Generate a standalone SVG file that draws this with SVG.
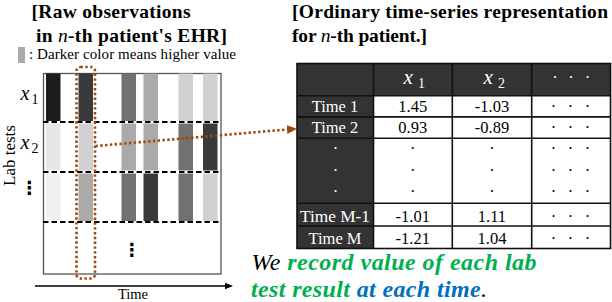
<svg xmlns="http://www.w3.org/2000/svg" width="612" height="302" viewBox="0 0 612 302">
<defs>
<style>
text{font-family:"Liberation Serif","Times New Roman",serif;}
.h{font-size:19.5px;font-weight:bold;fill:#000;}
.mi{font-style:italic;font-weight:normal;}
.num{font-size:16.5px;fill:#000;text-anchor:middle;}
.wd{font-size:16.5px;fill:#fff;text-anchor:middle;}
.dash{stroke:#000;stroke-width:2;stroke-dasharray:5.5 3;fill:none;}
.tl{stroke:#111;stroke-width:1.6;fill:none;}
.sel{fill:none;stroke:#9a4a12;stroke-width:2.6;stroke-dasharray:2.4 2.4;}
.c1{fill:#1c1c1c}.c2{fill:#3a3a3a}.c3{fill:#737070}.c4{fill:#aca9a9}.c5{fill:#d2d0d0}.c6{fill:#e8e6e6}.c7{fill:#f0f0ee}
.vd{font-family:"DejaVu Sans",sans-serif;font-weight:bold;font-size:18px;text-anchor:middle;fill:#000;}
.cap{font-size:24px;font-style:italic;}
.g{fill:#00b050;font-weight:bold;}
.bl{fill:#0070c0;font-weight:bold;}
</style>
<marker id="ahb" markerUnits="userSpaceOnUse" markerWidth="11" markerHeight="10" refX="0" refY="5" orient="auto">
<polygon points="0,0.5 10,5 0,9.5" fill="#9a4a12"/>
</marker>
<marker id="ahk" markerUnits="userSpaceOnUse" markerWidth="9" markerHeight="8" refX="0" refY="4" orient="auto">
<polygon points="0,0.8 8,4 0,7.2" fill="#000"/>
</marker>
</defs>

<g id="title-left">
<text class="h" x="31.5" y="17.5" textLength="159" lengthAdjust="spacing">[Raw observations</text>
<text class="h" x="36" y="42" textLength="191" lengthAdjust="spacing">in <tspan class="mi">n</tspan>-th patient's EHR]</text>
</g>

<g id="title-right">
<text class="h" x="292" y="17.5" textLength="316" lengthAdjust="spacing">[Ordinary time-series representation</text>
<text class="h" x="292" y="42" textLength="135" lengthAdjust="spacing">for <tspan class="mi">n</tspan>-th patient.]</text>
</g>

<g id="legend">
<rect x="18" y="47" width="7" height="16" class="c4"/>
<text x="29" y="59" font-size="15" textLength="207" lengthAdjust="spacing">: Darker color means higher value</text>
</g>

<g id="raw-grid">
<rect x="43.5" y="73.5" width="177.5" height="200.5" fill="#fff" stroke="#555" stroke-width="1.3"/>
<g id="row-x1">
<rect x="46" y="73.5" width="14.5" height="47.5" class="c1"/>
<rect x="78.5" y="73.5" width="14.5" height="47.5" class="c2"/>
<rect x="121.5" y="73.5" width="14.5" height="47.5" class="c3"/>
<rect x="143.5" y="73.5" width="14.5" height="47.5" class="c4"/>
<rect x="178.5" y="73.5" width="14.5" height="47.5" class="c5"/>
<rect x="203" y="73.5" width="14.5" height="47.5" class="c5"/>
</g>
<g id="row-x2">
<rect x="46" y="123.5" width="14.5" height="47" class="c6"/>
<rect x="78.5" y="123.5" width="14.5" height="47" class="c5"/>
<rect x="121.5" y="123.5" width="14.5" height="47" class="c4"/>
<rect x="143.5" y="123.5" width="14.5" height="47" class="c4"/>
<rect x="178.5" y="123.5" width="14.5" height="47" class="c3"/>
<rect x="203" y="123.5" width="14.5" height="47" class="c2"/>
</g>
<g id="row-x3">
<rect x="46" y="173.5" width="14.5" height="47.5" class="c7"/>
<rect x="78.5" y="173.5" width="14.5" height="47.5" class="c4"/>
<rect x="121.5" y="173.5" width="14.5" height="47.5" class="c3"/>
<rect x="143.5" y="173.5" width="14.5" height="47.5" class="c2"/>
<rect x="178.5" y="173.5" width="14.5" height="47.5" class="c3"/>
<rect x="203" y="173.5" width="14.5" height="47.5" class="c5"/>
</g>
<line x1="43" y1="122" x2="221" y2="122" class="dash"/>
<line x1="43" y1="172" x2="221" y2="172" class="dash"/>
<line x1="43" y1="222" x2="221" y2="222" class="dash"/>
<text class="vd" x="132" y="256">⋮</text>
<text x="20.5" y="100" font-size="20" font-style="italic">x</text>
<text x="31.5" y="104" font-size="14">1</text>
<text x="20.5" y="148.5" font-size="20" font-style="italic">x</text>
<text x="31.5" y="152.5" font-size="14">2</text>
<text class="vd" x="29.5" y="193.5">⋮</text>
<text transform="translate(15,155.5) rotate(-90)" text-anchor="middle" font-size="17">Lab tests</text>
<text x="133" y="298.5" font-size="14.5" text-anchor="middle">Time</text>
</g>

<g id="selection">
<rect x="76.5" y="67" width="18.5" height="211.5" rx="4" class="sel"/>
</g>

<g id="table">
<rect x="297" y="63.5" width="313.5" height="185" fill="#333"/>
<rect x="373.5" y="95.7" width="237" height="152.6" fill="#fff"/>
<g class="tl">
<rect x="297" y="63.5" width="313.5" height="185"/>
<line x1="297" y1="95.7" x2="610.5" y2="95.7"/>
<line x1="297" y1="116.9" x2="610.5" y2="116.9"/>
<line x1="297" y1="138.3" x2="610.5" y2="138.3"/>
<line x1="297" y1="203.3" x2="610.5" y2="203.3"/>
<line x1="297" y1="226" x2="610.5" y2="226"/>
<line x1="373.5" y1="63.5" x2="373.5" y2="248.5"/>
<line x1="452.3" y1="63.5" x2="452.3" y2="248.5"/>
<line x1="531.7" y1="63.5" x2="531.7" y2="248.5"/>
</g>
<text x="403.5" y="84" font-size="21" font-style="italic" fill="#fff">x</text>
<text x="418" y="88" font-size="14" fill="#fff">1</text>
<text x="483.5" y="84" font-size="21" font-style="italic" fill="#fff">x</text>
<text x="498" y="88" font-size="14" fill="#fff">2</text>
<text x="555 571 587.5" y="83" font-size="16.5" fill="#fff" text-anchor="middle">···</text>
<text class="wd" x="335" y="111.5">Time 1</text>
<text class="wd" x="335" y="133">Time 2</text>
<text class="wd" x="335.5" y="154">·</text>
<text class="wd" x="335.5" y="175.7">·</text>
<text class="wd" x="335.5" y="197.3">·</text>
<text class="wd" x="335" y="222" textLength="70" lengthAdjust="spacingAndGlyphs">Time M-1</text>
<text class="wd" x="335" y="244">Time M</text>
<text class="num" x="412.8" y="111.5">1.45</text>
<text class="num" x="412.8" y="133">0.93</text>
<text class="num" x="412.8" y="154">·</text>
<text class="num" x="412.8" y="175.7">·</text>
<text class="num" x="412.8" y="197.3">·</text>
<text class="num" x="412.8" y="222">-1.01</text>
<text class="num" x="412.8" y="244">-1.21</text>
<text class="num" x="492" y="111.5">-1.03</text>
<text class="num" x="492" y="133">-0.89</text>
<text class="num" x="492" y="154">·</text>
<text class="num" x="492" y="175.7">·</text>
<text class="num" x="492" y="197.3">·</text>
<text class="num" x="492" y="222">1.11</text>
<text class="num" x="492" y="244">1.04</text>
<text class="num" x="553.5 570.5 587.5" y="111.5">···</text>
<text class="num" x="553.5 570.5 587.5" y="132.5">···</text>
<text class="num" x="553.5 570.5 587.5" y="154">···</text>
<text class="num" x="553.5 570.5 587.5" y="175.7">···</text>
<text class="num" x="553.5 570.5 587.5" y="197.3">···</text>
<text class="num" x="553.5 570.5 587.5" y="222">···</text>
<text class="num" x="553.5 570.5 587.5" y="244">···</text>
</g>

<g id="caption">
<text class="cap" x="251.5" y="269.5" textLength="285" lengthAdjust="spacing">We <tspan class="g">record value of each lab</tspan></text>
<text class="cap" x="251" y="296.5" textLength="236" lengthAdjust="spacing"><tspan class="g">test result</tspan> <tspan class="bl">at each time</tspan>.</text>
</g>

<g id="connectors">
<line x1="95.5" y1="146" x2="287" y2="129.5" stroke="#9a4a12" stroke-width="2.6" stroke-dasharray="2.4 2.4" marker-end="url(#ahb)"/>
<line x1="35" y1="286" x2="225" y2="286" stroke="#000" stroke-width="1.5" marker-end="url(#ahk)"/>
</g>
</svg>
